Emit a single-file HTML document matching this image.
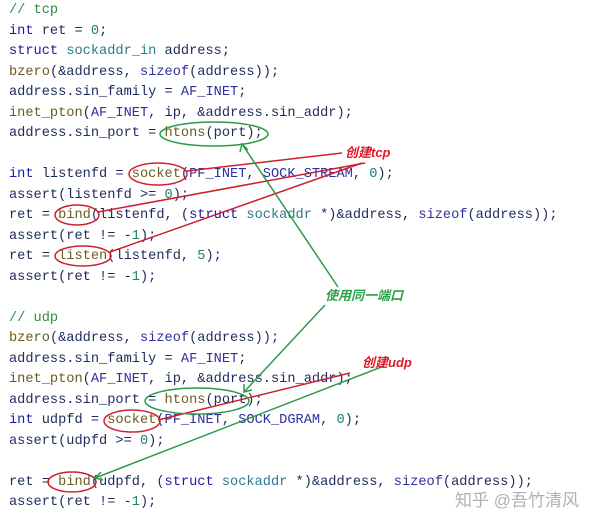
<!DOCTYPE html>
<html><head><meta charset="utf-8"><style>
html,body{margin:0;padding:0;background:#fff;width:600px;height:524px;overflow:hidden;position:relative}
pre{position:absolute;left:9px;top:1px;margin:0;font-family:"Liberation Mono",monospace;font-size:13.65px;line-height:20.5px;color:#1d2b5c}
.c{color:#2e8b3e}.k{color:#1a1aa8}.t{color:#2b7a8f}.f{color:#6e5a20}.n{color:#1a8070}.m{color:#3030a0}
svg{position:absolute;left:0;top:0}
.wm{position:absolute;left:455px;top:486px;font-family:"Liberation Sans","Noto Sans CJK SC",sans-serif;font-size:17px;color:#b0b0b0}
</style></head><body>
<pre><span class="c">// tcp</span>
<span class="k">int</span> ret = <span class="n">0</span>;
<span class="k">struct</span> <span class="t">sockaddr_in</span> address;
<span class="f">bzero</span>(&amp;address, <span class="m">sizeof</span>(address));
address.sin_family = <span class="m">AF_INET</span>;
<span class="f">inet_pton</span>(<span class="m">AF_INET</span>, ip, &amp;address.sin_addr);
address.sin_port = <span class="f">htons</span>(port);

<span class="k">int</span> listenfd = <span class="f">socket</span>(<span class="m">PF_INET</span>, <span class="m">SOCK_STREAM</span>, <span class="n">0</span>);
assert(listenfd &gt;= <span class="n">0</span>);
ret = <span class="f">bind</span>(listenfd, (<span class="k">struct</span> <span class="t">sockaddr</span> *)&amp;address, <span class="m">sizeof</span>(address));
assert(ret != -<span class="n">1</span>);
ret = <span class="f">listen</span>(listenfd, <span class="n">5</span>);
assert(ret != -<span class="n">1</span>);

<span class="c">// udp</span>
<span class="f">bzero</span>(&amp;address, <span class="m">sizeof</span>(address));
address.sin_family = <span class="m">AF_INET</span>;
<span class="f">inet_pton</span>(<span class="m">AF_INET</span>, ip, &amp;address.sin_addr);
address.sin_port = <span class="f">htons</span>(port);
<span class="k">int</span> udpfd = <span class="f">socket</span>(<span class="m">PF_INET</span>, <span class="m">SOCK_DGRAM</span>, <span class="n">0</span>);
assert(udpfd &gt;= <span class="n">0</span>);

ret = <span class="f">bind</span>(udpfd, (<span class="k">struct</span> <span class="t">sockaddr</span> *)&amp;address, <span class="m">sizeof</span>(address));
assert(ret != -<span class="n">1</span>);</pre>
<svg width="600" height="524" fill="none" stroke-width="1.5">
<g stroke="#cc2030">
<ellipse cx="158" cy="174" rx="29" ry="11"/>
<ellipse cx="77" cy="215" rx="22" ry="10"/>
<ellipse cx="83" cy="256" rx="28" ry="10"/>
<ellipse cx="132" cy="421" rx="28" ry="11"/>
<ellipse cx="72" cy="482" rx="24" ry="10"/>
<line x1="342" y1="153" x2="187" y2="171"/>
<line x1="365" y1="163" x2="98" y2="212"/>
<line x1="362" y1="163" x2="110" y2="252"/>
<line x1="350" y1="373" x2="158" y2="420"/>
</g>
<g stroke="#2e9a4a">
<ellipse cx="214" cy="134" rx="54" ry="12"/>
<ellipse cx="197" cy="401" rx="52" ry="13"/>
<line x1="338" y1="287" x2="242" y2="144"/>
<polyline points="240,152 242,144 248,150"/>
<line x1="325" y1="305" x2="244" y2="392"/>
<polyline points="244,384 244,392 252,390"/>
<line x1="384" y1="366" x2="95" y2="478"/>
<polyline points="101,472 95,478 103,480"/>
</g>
<g font-family="Liberation Sans,Noto Sans CJK SC,sans-serif" font-size="13" font-weight="bold" font-style="italic" stroke="none">
<text x="345" y="157" fill="#dd1a2a">创建tcp</text>
<text x="325" y="300" fill="#2aa04a">使用同一端口</text>
<text x="362" y="367" fill="#dd1a2a">创建udp</text>
</g>
</svg>
<div class="wm">知乎 @吾竹清风</div>
</body></html>
